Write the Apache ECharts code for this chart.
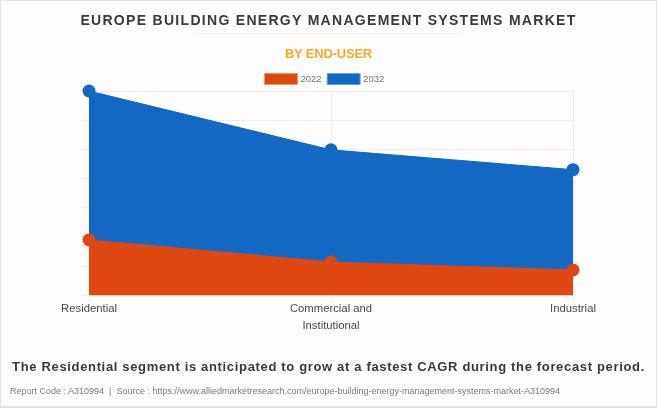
<!DOCTYPE html>
<html>
<head>
    <meta charset="utf-8">
    <title>Europe Building Energy Management Systems Market</title>
    <style>
    html, body {
      margin: 0;
      padding: 0;
      width: 657px;
      height: 408px;
      overflow: hidden;
      background: #fefdfc;
      font-family: "Liberation Sans", Arial, sans-serif;
    }
    #main {
      position: absolute;
      left: 0;
      top: 0;
      width: 657px;
      height: 408px;
    }
    #frame {
      position: absolute;
      left: 0;
      top: 0;
      width: 657px;
      height: 408px;
      box-sizing: border-box;
      border: 1px solid #e3e3e3;
      border-bottom-width: 2px;
      pointer-events: none;
    }
    .txt {
      position: absolute;
      left: 0;
      width: 657px;
      text-align: center;
      white-space: nowrap;
    }
    #title {
      top: 12px;
      font-size: 14px;
      line-height: 17px;
      font-weight: bold;
      letter-spacing: 1.3px;
      color: #3a3a3a;
    }
    #rule {
      position: absolute;
      left: 193px;
      top: 33px;
      width: 270px;
      height: 1px;
      background: #efefef;
    }
    #sub {
      top: 45px;
      font-size: 13px;
      line-height: 17px;
      font-weight: bold;
      letter-spacing: -0.2px;
      color: #f9a826;
    }
    #note {
      top: 358px;
      font-size: 13px;
      line-height: 17px;
      font-weight: bold;
      letter-spacing: 0.66px;
      color: #3a3a3a;
    }
    #source {
      top: 385px;
      left: 10px;
      width: auto;
      font-size: 9px;
      line-height: 12px;
      color: #7a7a7a;
    }
    </style>
    <script src="https://cdn.jsdelivr.net/npm/echarts@6/dist/echarts.min.js"></script>
</head>
<body>
    <div id="main"></div>
    <div id="frame"></div>
    <div class="txt" id="title">EUROPE BUILDING ENERGY MANAGEMENT SYSTEMS MARKET</div>
    <div id="rule"></div>
    <div class="txt" id="sub">BY END-USER</div>
    <div class="txt" id="note">The Residential segment is anticipated to grow at a fastest CAGR during the forecast period.</div>
    <div class="txt" id="source">Report Code : A310994&nbsp; |&nbsp; Source : https://www.alliedmarketresearch.com/europe-building-energy-management-systems-market-A310994</div>
    <script>
    var categories = ['Residential', 'Commercial and\nInstitutional', 'Industrial'];
    var values2022 = [189, 113, 86];
    var values2032 = [700, 498, 430];

    var myChart = echarts.init(document.getElementById('main'));

    var option = {
        backgroundColor: 'transparent',
        animation: false,
        legend: {
            data: [
                { name: '2022', itemStyle: { borderColor: '#ee9470', borderWidth: 1 } },
                { name: '2032', itemStyle: { borderColor: '#69a3dd', borderWidth: 1 } }
            ],
            top: 68,
            left: 259,
            itemWidth: 33,
            itemHeight: 11,
            itemGap: 5,
            icon: 'rect',
            textStyle: {
                fontFamily: 'Liberation Sans',
                fontSize: 9.5,
                color: '#777',
                padding: [0, 0, 0, -2]
            }
        },
        grid: {
            left: 89,
            right: 84,
            top: 91,
            bottom: 113
        },
        xAxis: {
            type: 'category',
            data: categories,
            boundaryGap: false,
            axisLine: {
                lineStyle: { color: '#d0d0d0' }
            },
            axisTick: {
                length: 6,
                lineStyle: { color: '#ececec' }
            },
            axisLabel: {
                interval: 0,
                margin: 5,
                fontFamily: 'Liberation Sans',
                fontSize: 11.3,
                lineHeight: 17,
                color: '#4a4a4a'
            },
            splitLine: {
                show: true,
                lineStyle: { color: '#ececec' }
            }
        },
        yAxis: {
            type: 'value',
            min: 0,
            max: 700,
            interval: 100,
            axisLine: { show: false },
            axisTick: {
                show: true,
                length: 8,
                lineStyle: { color: '#ececec' }
            },
            axisLabel: { show: false },
            splitLine: {
                lineStyle: { color: '#ececec' }
            }
        },
        series: [
            {
                name: '2032',
                type: 'line',
                z: 2,
                data: values2032,
                symbol: 'circle',
                symbolSize: 13,
                lineStyle: { width: 1, color: '#1268c3' },
                itemStyle: { color: '#1268c3' },
                areaStyle: { color: '#1268c3', opacity: 1 }
            },
            {
                name: '2022',
                type: 'line',
                z: 3,
                data: values2022,
                symbol: 'circle',
                symbolSize: 13,
                lineStyle: { width: 1, color: '#e04813' },
                itemStyle: { color: '#e04813' },
                areaStyle: { color: '#e04813', opacity: 1 }
            }
        ]
    };

    myChart.setOption(option);
    </script>
</body>
</html>
